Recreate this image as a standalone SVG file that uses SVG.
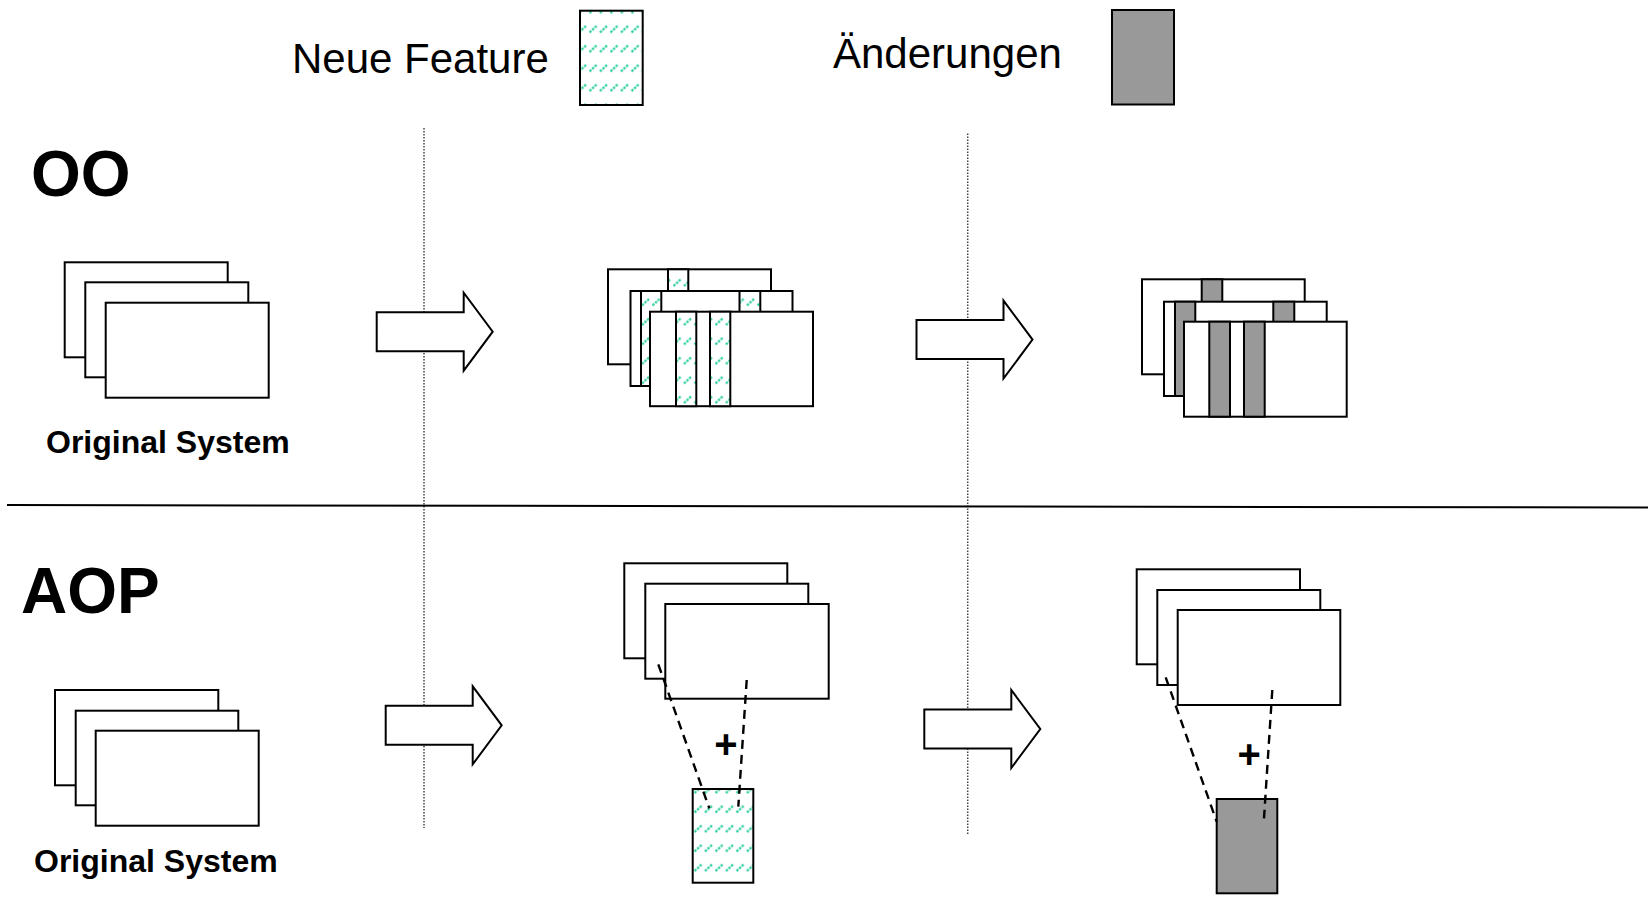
<svg xmlns="http://www.w3.org/2000/svg" width="1648" height="898" viewBox="0 0 1648 898">
<style>
.card{fill:#fff;stroke:#000;stroke-width:2}
.hat{fill:url(#hatch);stroke:#000;stroke-width:2}
.gry{fill:#999;stroke:#000;stroke-width:2}
.arrow{fill:#fff;stroke:#000;stroke-width:2;stroke-linejoin:miter}
.dot{stroke:#444;stroke-width:1.5;stroke-dasharray:1.5 1.5;fill:none}
.dash{stroke:#000;stroke-width:2.4;stroke-dasharray:9 6;fill:none}
.leg{font-family:"Liberation Sans",Arial,sans-serif;font-size:42px;fill:#000}
.big{font-family:"Liberation Sans",Arial,sans-serif;font-size:64px;font-weight:bold;fill:#000}
.lbl{font-family:"Liberation Sans",Arial,sans-serif;font-size:32px;font-weight:bold;fill:#000}
.plus{font-family:"Liberation Sans",Arial,sans-serif;font-size:40px;font-weight:bold;fill:#000;text-anchor:middle}
</style>
<defs>
<pattern id="hatch" patternUnits="userSpaceOnUse" width="10.5" height="19.5">
<rect width="10.5" height="19.5" fill="#fff"/>
<line x1="1.5" y1="13" x2="8.5" y2="6.5" stroke="#2ECFA2" stroke-width="2.3" stroke-dasharray="2.4 1.2"/>
</pattern>
<polygon id="arr" points="0,19.5 87,19.5 87,0 116,39 87,78 87,58.5 0,58.5"/>
</defs>
<rect width="1648" height="898" fill="#fff"/>

<g id="separators">
<line class="dot" x1="424" y1="128" x2="424" y2="828"/>
<line class="dot" x1="967.7" y1="133.5" x2="967.7" y2="835.5"/>
<line x1="7" y1="505" x2="1648" y2="507.5" stroke="#000" stroke-width="2"/>
</g>

<g id="legend">
<text class="leg" x="292" y="73">Neue Feature</text>
<rect class="hat" x="580" y="10.7" width="62.7" height="94.3"/>
<text class="leg" x="833" y="68">Änderungen</text>
<rect class="gry" x="1112" y="10" width="62" height="94.5"/>
</g>

<g id="title-oo"><text class="big" x="31" y="196">OO</text></g>
<g id="title-aop"><text class="big" x="21" y="613">AOP</text></g>

<g id="oo-original">
<rect class="card" x="64.7" y="262.3" width="163" height="95"/>
<rect class="card" x="85.3" y="282.3" width="163" height="95"/>
<rect class="card" x="105.7" y="302.7" width="163" height="95"/>
<text class="lbl" x="46" y="453">Original System</text>
</g>

<g id="oo-feature">
<rect class="card" x="608" y="269.3" width="163" height="95"/>
<rect class="hat" x="668" y="269.3" width="20.3" height="95"/>
<rect class="card" x="630.5" y="291" width="162" height="95"/>
<rect class="hat" x="641" y="291" width="20.3" height="95"/>
<rect class="hat" x="739.5" y="291" width="20.8" height="95"/>
<rect class="card" x="650" y="311.7" width="163" height="94.5"/>
<rect class="hat" x="676" y="311.7" width="20.3" height="94.5"/>
<rect class="hat" x="710" y="311.7" width="20.3" height="94.5"/>
</g>

<g id="oo-changes">
<rect class="card" x="1142" y="279.3" width="162.7" height="95"/>
<rect class="gry" x="1201.7" y="279.3" width="20.6" height="95"/>
<rect class="card" x="1164" y="301.7" width="162.7" height="94.3"/>
<rect class="gry" x="1175" y="301.7" width="20.3" height="94.3"/>
<rect class="gry" x="1273.3" y="301.7" width="21" height="94.3"/>
<rect class="card" x="1184" y="321.7" width="162.7" height="95"/>
<rect class="gry" x="1209.3" y="321.7" width="20.7" height="95"/>
<rect class="gry" x="1244" y="321.7" width="20.7" height="95"/>
</g>

<g id="aop-original">
<rect class="card" x="55" y="690" width="163.3" height="95.3"/>
<rect class="card" x="75.7" y="710.7" width="162.6" height="94.6"/>
<rect class="card" x="95.7" y="730.7" width="163" height="95"/>
<text class="lbl" x="34" y="872">Original System</text>
</g>

<g id="aop-feature">
<rect class="card" x="624.3" y="563.3" width="163" height="95"/>
<rect class="card" x="645.3" y="583.7" width="163" height="95"/>
<rect class="card" x="665.3" y="604" width="163.4" height="94.7"/>
<rect class="hat" x="692.7" y="789" width="60.6" height="93.7"/>
<text class="plus" x="726" y="758">+</text>
</g>

<g id="aop-changes">
<rect class="card" x="1136.7" y="569.3" width="163.3" height="95"/>
<rect class="card" x="1157.3" y="590" width="163" height="95"/>
<rect class="card" x="1177.7" y="610" width="162.6" height="95"/>
<rect class="gry" x="1216.7" y="799" width="60.6" height="94.3"/>
<text class="plus" x="1249.3" y="768">+</text>
</g>

<g id="connectors">
<use href="#arr" class="arrow" x="376.7" y="292.7"/>
<use href="#arr" class="arrow" x="916.5" y="300.6"/>
<use href="#arr" class="arrow" x="385.7" y="686.3"/>
<use href="#arr" class="arrow" x="924.3" y="690"/>
<line class="dash" x1="658.3" y1="664.3" x2="709.3" y2="808.3"/>
<line class="dash" x1="746.7" y1="680" x2="738.3" y2="806.7"/>
<line class="dash" x1="1165.7" y1="677.3" x2="1216.7" y2="821.7"/>
<line class="dash" x1="1272.3" y1="690" x2="1264" y2="818.3"/>
</g>
</svg>
